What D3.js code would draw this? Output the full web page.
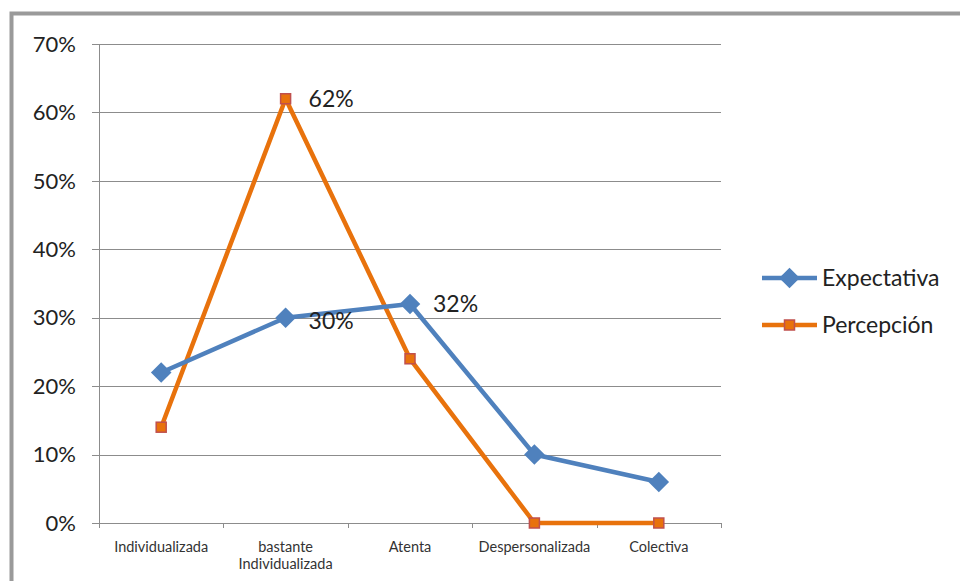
<!DOCTYPE html>
<html><head><meta charset="utf-8">
<script src="https://cdn.jsdelivr.net/npm/d3@7"></script>
<style>body{margin:0;background:#fff;} svg{display:block;}</style>
</head><body>
<script>
const categories = ["Individualizada", "bastante\nIndividualizada", "Atenta", "Despersonalizada", "Colectiva"];
const expectativa = [0.22, 0.30, 0.32, 0.10, 0.06];
const percepcion = [0.14, 0.62, 0.24, 0.00, 0.00];
const yTicks = [0, 0.1, 0.2, 0.3, 0.4, 0.5, 0.6, 0.7];
const seriesNames = ["Expectativa", "Percepción"];
// data labels shown: [seriesIndex, categoryIndex]
const labelled = [[1, 1], [0, 1], [0, 2]];

const W = 960, H = 581;
const svg = d3.select("body").append("svg").attr("width", W).attr("height", H);
const font = "Lato, 'Open Sans', sans-serif";

// frame
svg.append("rect").attr("x", 11.5).attr("y", 13.5).attr("width", W + 20).attr("height", H + 20)
  .attr("fill", "none").attr("stroke", "#9a9a9a").attr("stroke-width", 4);

const x = d3.scaleBand().domain(d3.range(categories.length)).range([99, 721]);
const y = d3.scaleLinear().domain([0, 0.7]).range([523, 44]);

const blue = "#4F81BD", orange = "#E8720C", sqEdge = "#C0504D";

// gridlines
svg.append("g").selectAll("line").data(yTicks).join("line")
  .attr("x1", 92).attr("x2", 721).attr("y1", d => Math.round(y(d)) + 0.5).attr("y2", d => Math.round(y(d)) + 0.5)
  .attr("stroke", "#8c8c8c").attr("stroke-width", 1);
// y axis line
svg.append("line").attr("x1", 99.5).attr("x2", 99.5).attr("y1", y(0.7)).attr("y2", y(0))
  .attr("stroke", "#8c8c8c");
// y labels
svg.append("g").selectAll("text").data(yTicks).join("text")
  .attr("x", 76).attr("y", d => y(d)).attr("dy", "0.35em").attr("text-anchor", "end")
  .attr("font-family", font).attr("font-size", 22).attr("fill", "#222")
  .text(d => d3.format(".0%")(d));
// x ticks
const bounds = d3.range(categories.length + 1).map(i => i < categories.length ? x(i) : x.range()[1]);
svg.append("g").selectAll("line").data(bounds).join("line")
  .attr("x1", d => Math.round(d) + 0.5).attr("x2", d => Math.round(d) + 0.5)
  .attr("y1", y(0)).attr("y2", y(0) + 5).attr("stroke", "#8c8c8c");
// x labels
const xl = svg.append("g").selectAll("text").data(categories).join("text")
  .attr("x", (d, i) => x(i) + x.bandwidth() / 2).attr("y", 552)
  .attr("text-anchor", "middle").attr("font-family", font).attr("font-size", 14.5).attr("fill", "#333");
xl.each(function(d) {
  const lines = d.split("\n");
  const tx = d3.select(this).attr("x");
  d3.select(this).selectAll("tspan").data(lines).join("tspan")
    .attr("x", tx).attr("dy", (l, j) => j ? 17 : 0).text(l => l);
});

const cx = i => x(i) + x.bandwidth() / 2;
const line = d3.line().x((d, i) => cx(i)).y(d => y(d));

// Percepción line
svg.append("path").attr("d", line(percepcion)).attr("fill", "none").attr("stroke", orange).attr("stroke-width", 4.5).attr("stroke-linejoin", "round");
// Expectativa line
svg.append("path").attr("d", line(expectativa)).attr("fill", "none").attr("stroke", blue).attr("stroke-width", 4.5).attr("stroke-linejoin", "round");

const diamond = d3.symbol().type(d3.symbolDiamond2).size(270);
svg.append("g").selectAll("path").data(expectativa).join("path")
  .attr("d", diamond).attr("transform", (d, i) => `translate(${cx(i)},${y(d)})`)
  .attr("fill", blue);
svg.append("g").selectAll("rect").data(percepcion).join("rect")
  .attr("x", (d, i) => cx(i) - 5).attr("y", d => y(d) - 5).attr("width", 10).attr("height", 10)
  .attr("fill", orange).attr("stroke", sqEdge).attr("stroke-width", 1.5);

// data labels
const allSeries = [expectativa, percepcion];
svg.append("g").selectAll("text").data(labelled).join("text")
  .attr("x", d => cx(d[1]) + 23).attr("y", d => y(allSeries[d[0]][d[1]]) + (d[0] === 0 && d[1] === 1 ? 3 : 0))
  .attr("dy", "0.35em").attr("font-family", font).attr("font-size", 23).attr("fill", "#222")
  .text(d => d3.format(".0%")(allSeries[d[0]][d[1]]));

// legend
const lg = svg.append("g");
seriesNames.forEach((n, i) => {
  const ly = 278 + i * 47;
  const col = i === 0 ? blue : orange;
  lg.append("line").attr("x1", 762).attr("x2", 817).attr("y1", ly).attr("y2", ly).attr("stroke", col).attr("stroke-width", 4.5);
  if (i === 0) {
    lg.append("path").attr("d", diamond).attr("transform", `translate(789.5,${ly})`).attr("fill", blue);
  } else {
    lg.append("rect").attr("x", 784.5).attr("y", ly - 5).attr("width", 10).attr("height", 10)
      .attr("fill", orange).attr("stroke", sqEdge).attr("stroke-width", 1.5);
  }
  lg.append("text").attr("x", 822).attr("y", ly).attr("dy", "0.35em")
    .attr("font-family", font).attr("font-size", 23).attr("fill", "#222").text(n);
});
</script>
</body></html>
